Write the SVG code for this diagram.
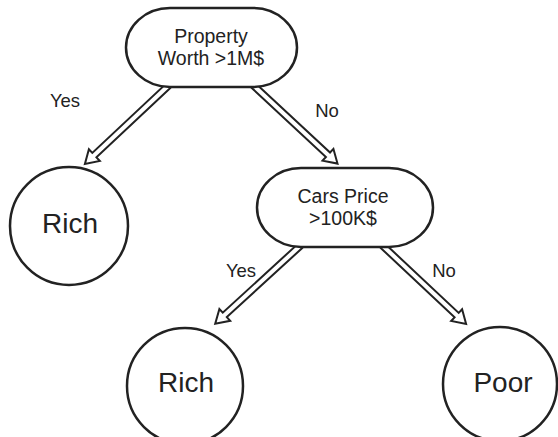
<svg xmlns="http://www.w3.org/2000/svg" width="558" height="437" viewBox="0 0 558 437">
<style>
.node{fill:#fff;stroke:#222;stroke-width:2.5}
.arr{fill:#fff;stroke:#222;stroke-width:2;stroke-linejoin:miter}
.t{font-family:"Liberation Sans",Arial,sans-serif;fill:#222;text-anchor:middle}
.nt{font-size:19.5px}
.big{font-size:28px}
.lb{font-size:18.5px}
</style>
<rect width="558" height="437" fill="#fff"/>
<g id="connectors">
<path class="arr" d="M0,-3 L101,-3 L101,-8 L114,0 L101,8 L101,3 L0,3 Z" transform="translate(168,86) rotate(136.8)"/>
<path class="arr" d="M0,-3 L101,-3 L101,-8 L114,0 L101,8 L101,3 L0,3 Z" transform="translate(254,86) rotate(42.9)"/>
<path class="arr" d="M0,-3 L102,-3 L102,-8 L115,0 L102,8 L102,3 L0,3 Z" transform="translate(300,246) rotate(137.5)"/>
<path class="arr" d="M0,-3 L101,-3 L101,-8 L114,0 L101,8 L101,3 L0,3 Z" transform="translate(383,246) rotate(43.2)"/>
<text class="t lb" x="65" y="107">Yes</text>
<text class="t lb" x="327" y="117">No</text>
<text class="t lb" x="241" y="277">Yes</text>
<text class="t lb" x="444" y="277">No</text>
</g>
<g id="n_property">
<rect class="node" x="126" y="8" width="171" height="79" rx="44" ry="39.5"/>
<text class="t nt" x="211" y="43">Property</text>
<text class="t nt" x="211" y="65">Worth &gt;1M$</text>
</g>
<g id="n_cars">
<rect class="node" x="257" y="168" width="176" height="79" rx="44" ry="39.5"/>
<text class="t nt" x="343" y="203">Cars Price</text>
<text class="t nt" x="343" y="225">&gt;100K$</text>
</g>
<g id="n_rich1">
<circle class="node" cx="69" cy="226" r="59"/>
<text class="t big" x="70" y="233">Rich</text>
</g>
<g id="n_rich2">
<circle class="node" cx="185" cy="386" r="58"/>
<text class="t big" x="186" y="392">Rich</text>
</g>
<g id="n_poor">
<circle class="node" cx="500" cy="384" r="57"/>
<text class="t big" x="503" y="392">Poor</text>
</g>
</svg>
